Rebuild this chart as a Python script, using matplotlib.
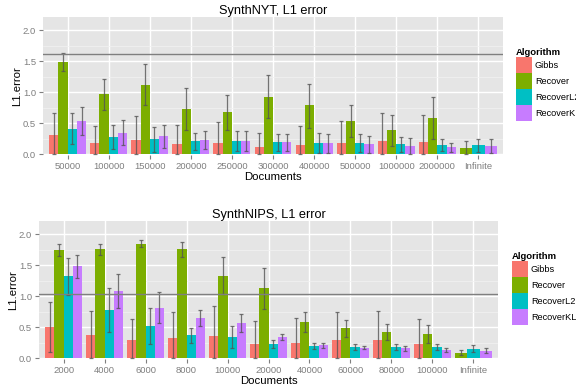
import numpy as np
import matplotlib
matplotlib.use("Agg")
import matplotlib.pyplot as plt
from matplotlib.patches import Patch

plt.rcParams['font.family'] = ['Liberation Sans', 'DejaVu Sans']

nan = np.nan
algorithms = ['Gibbs', 'Recover', 'RecoverL2', 'RecoverKL']
colors = ['#F8766D', '#7CAE00', '#00BFC4', '#C77CFF']

# ---- SynthNYT ----
nyt_docs = ['50000', '100000', '150000', '200000', '250000', '300000',
            '400000', '500000', '1000000', '2000000', 'Infinite']
nyt_gibbs = [0.31, 0.18, 0.23, 0.17, 0.18, 0.12, 0.15, 0.18, 0.215, 0.20, nan]
nyt_gibbs_hi = [0.66, 0.45, 0.61, 0.48, 0.525, 0.35, 0.46, 0.54, 0.66, 0.64, nan]
nyt_gibbs_lo = [0, 0, 0, 0, 0, 0, 0, 0, 0, 0, nan]
nyt_recover = [1.49, 0.97, 1.115, 0.73, 0.68, 0.92, 0.79, 0.54, 0.39, 0.585, 0.10]
nyt_recover_hi = [1.635, 1.22, 1.46, 1.06, 0.96, 1.27, 1.14, 0.79, 0.64, 0.93, 0.21]
nyt_recover_lo = [1.34, 0.71, 0.79, 0.39, 0.39, 0.59, 0.43, 0.28, 0.14, 0.24, 0.005]
nyt_l2 = [0.41, 0.28, 0.25, 0.215, 0.215, 0.20, 0.18, 0.18, 0.17, 0.15, 0.15]
nyt_l2_hi = [0.67, 0.48, 0.445, 0.35, 0.37, 0.33, 0.34, 0.32, 0.28, 0.24, 0.25]
nyt_l2_lo = [0.16, 0.08, 0.04, 0.075, 0.06, 0.055, 0.02, 0.04, 0.04, 0.06, 0.04]
nyt_kl = [0.54, 0.34, 0.295, 0.23, 0.215, 0.20, 0.18, 0.17, 0.135, 0.12, 0.135]
nyt_kl_hi = [0.77, 0.55, 0.48, 0.38, 0.38, 0.33, 0.33, 0.30, 0.26, 0.19, 0.24]
nyt_kl_lo = [0.31, 0.145, 0.10, 0.09, 0.06, 0.055, 0.02, 0.03, 0.005, 0.04, 0.015]
nyt_ref = 1.61

# ---- SynthNIPS ----
nips_docs = ['2000', '4000', '6000', '8000', '10000', '20000',
             '40000', '60000', '80000', '100000', 'Infinite']
nips_gibbs = [0.51, 0.38, 0.30, 0.33, 0.365, 0.235, 0.25, 0.29, 0.29, 0.235, nan]
nips_gibbs_hi = [0.91, 0.76, 0.64, 0.74, 0.835, 0.595, 0.65, 0.745, 0.76, 0.64, nan]
nips_gibbs_lo = [0.10, 0, 0, 0, 0, 0, 0, 0, 0, 0, nan]
nips_recover = [1.75, 1.76, 1.845, 1.76, 1.33, 1.135, 0.59, 0.49, 0.43, 0.40, 0.09]
nips_recover_hi = [1.84, 1.84, 1.90, 1.88, 1.63, 1.46, 0.745, 0.62, 0.56, 0.545, 0.14]
nips_recover_lo = [1.65, 1.67, 1.785, 1.635, 1.035, 0.79, 0.42, 0.34, 0.30, 0.24, 0.05]
nips_l2 = [1.32, 0.78, 0.525, 0.38, 0.35, 0.235, 0.20, 0.18, 0.18, 0.18, 0.155]
nips_l2_hi = [1.61, 1.13, 0.81, 0.49, 0.515, 0.295, 0.24, 0.23, 0.23, 0.23, 0.21]
nips_l2_lo = [1.02, 0.43, 0.225, 0.245, 0.165, 0.175, 0.155, 0.14, 0.13, 0.14, 0.095]
nips_kl = [1.49, 1.09, 0.815, 0.655, 0.575, 0.35, 0.22, 0.17, 0.16, 0.14, 0.125]
nips_kl_hi = [1.67, 1.35, 1.06, 0.78, 0.72, 0.39, 0.245, 0.195, 0.195, 0.165, 0.165]
nips_kl_lo = [1.30, 0.81, 0.57, 0.525, 0.42, 0.30, 0.165, 0.145, 0.125, 0.11, 0.08]
nips_ref = 1.035

fig = plt.figure(figsize=(5.76, 3.85), dpi=100)

TICK_GREY = '#7F7F7F'


def draw_panel(ax, docs, vals, his, los, ref, title):
    n = len(docs)
    vals = np.array(vals, dtype=float)
    his = np.array(his, dtype=float)
    los = np.array(los, dtype=float)
    ax.set_facecolor('#E5E5E5')
    for s in ax.spines.values():
        s.set_visible(False)
    ax.set_xlim(0.4, n + 0.6)
    ax.set_ylim(-0.01, 2.21)
    ax.set_yticks([0, 0.5, 1.0, 1.5, 2.0])
    ax.set_yticks([0.25, 0.75, 1.25, 1.75], minor=True)
    ax.set_yticklabels(['0.0', '0.5', '1.0', '1.5', '2.0'])
    ax.set_xticks(np.arange(1, n + 1))
    ax.set_xticklabels(docs)
    ax.grid(which='major', color='white', linewidth=1.0)
    ax.grid(which='minor', axis='y', color='#F2F2F2', linewidth=0.5)
    ax.set_axisbelow(True)
    ax.tick_params(axis='both', which='major', colors=TICK_GREY, labelsize=6.8,
                   length=3, width=0.8, pad=2)
    ax.tick_params(axis='y', which='minor', length=0)
    for i in range(n):
        present = [k for k in range(4) if not np.isnan(vals[k][i])]
        m = len(present)
        w = 0.9 / m
        for j, k in enumerate(present):
            xc = (i + 1) - 0.45 + w * (j + 0.5)
            ax.bar(xc, vals[k][i], width=w, color=colors[k], linewidth=0, zorder=2)
            ax.errorbar(xc, vals[k][i],
                        yerr=[[vals[k][i] - los[k][i]], [his[k][i] - vals[k][i]]],
                        fmt='none', ecolor='#555555', alpha=0.8, elinewidth=0.9,
                        capsize=1.3, capthick=0.9, zorder=3)
    ax.axhline(ref, color='#7F7F7F', linewidth=1.0, zorder=4)
    ax.set_title(title, fontsize=9.2, pad=1.5)
    ax.set_xlabel('Documents', fontsize=8.2, labelpad=1)
    ax.set_ylabel('L1.error', fontsize=8.2, labelpad=0.5)


ax1 = fig.add_axes([43 / 576, 1 - 155 / 385, 460 / 576, 138 / 385])
draw_panel(ax1, nyt_docs,
           [nyt_gibbs, nyt_recover, nyt_l2, nyt_kl],
           [nyt_gibbs_hi, nyt_recover_hi, nyt_l2_hi, nyt_kl_hi],
           [nyt_gibbs_lo, nyt_recover_lo, nyt_l2_lo, nyt_kl_lo],
           nyt_ref, 'SynthNYT, L1 error')

ax2 = fig.add_axes([39 / 576, 1 - 359 / 385, 459 / 576, 138 / 385])
draw_panel(ax2, nips_docs,
           [nips_gibbs, nips_recover, nips_l2, nips_kl],
           [nips_gibbs_hi, nips_recover_hi, nips_l2_hi, nips_kl_hi],
           [nips_gibbs_lo, nips_recover_lo, nips_l2_lo, nips_kl_lo],
           nips_ref, 'SynthNIPS, L1 error')

handles = [Patch(facecolor=c, edgecolor='none') for c in colors]


def add_legend(x, y_top):
    leg = fig.legend(handles, algorithms, loc='upper left',
                     bbox_to_anchor=(x / 576, 1 - y_top / 385),
                     bbox_transform=fig.transFigure,
                     frameon=False, fontsize=6.6, title='Algorithm',
                     title_fontproperties={'weight': 'bold', 'size': 6.8},
                     handlelength=1.75, handleheight=2.31, labelspacing=0,
                     handletextpad=0.3, borderpad=0, borderaxespad=0,
                     alignment='left')
    return leg


add_legend(516, 48)
add_legend(512, 252)

fig.savefig('out.png', dpi=100)
